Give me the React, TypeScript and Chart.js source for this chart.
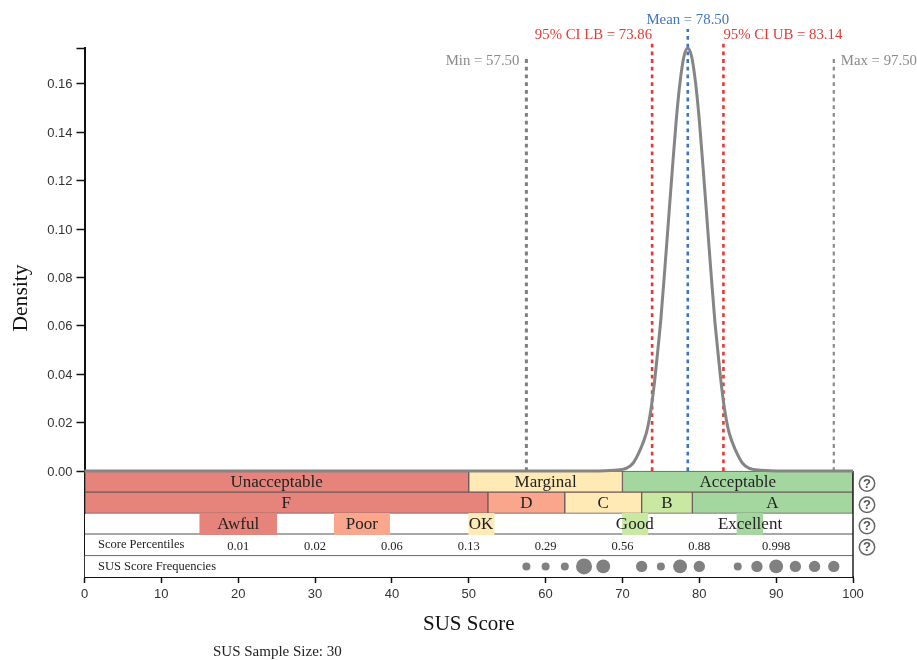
import React, { useEffect, useRef } from "react";
import { Chart, registerables } from "chart.js";

Chart.register(...registerables);

const SERIF = '"Liberation Serif", serif';
const SANS = '"Liberation Sans", sans-serif';

const curveX = [0, 50, 66, 69, 70.55, 71.4, 72.3, 73.1, 73.5, 73.85, 74.25, 74.7, 75, 75.5, 76, 76.5, 77, 77.5, 78, 78.5, 79, 79.5, 80, 80.5, 81, 81.5, 82, 82.3, 82.75, 83.15, 83.5, 83.9, 84.7, 85.6, 86.45, 88, 91, 100];
const curveY = [0, 0, 0, 0.0003, 0.0012, 0.0033, 0.0087, 0.0156, 0.0215, 0.0285, 0.039, 0.053, 0.0629, 0.0829, 0.104, 0.125, 0.145, 0.1608, 0.1713, 0.1747, 0.1713, 0.1608, 0.145, 0.125, 0.104, 0.0829, 0.0629, 0.053, 0.039, 0.0285, 0.0215, 0.0156, 0.0087, 0.0033, 0.0012, 0.0003, 0, 0];

const yTickValues = [0, 0.02, 0.04, 0.06, 0.08, 0.1, 0.12, 0.14, 0.16, 0.1748];

const refNames = ["Min", "95% CI LB", "Mean", "95% CI UB", "Max"];
const refValues = [57.5, 73.86, 78.5, 83.14, 97.5];
const refTops = [0.1715, 0.1769, 0.1826, 0.1769, 0.1715];
const refColors = ["#7f7f7f", "#e53935", "#3f74c4", "#e53935", "#8a8a8a"];
const refWidths = [3, 2.6, 2.6, 2.6, 2.2];

const row1Labels = ["Unacceptable", "Marginal", "Acceptable"];
const row1Ranges = [[0, 50], [50, 70], [70, 100]];
const row1Colors = ["#e6837b", "#ffeab5", "#a3d79f"];
const row1TextX = [25, 60, 85];

const row2Labels = ["F", "D", "C", "B", "A"];
const row2Ranges = [[0, 52.5], [52.5, 62.5], [62.5, 72.5], [72.5, 79.1], [79.1, 100]];
const row2Colors = ["#e6837b", "#faa68c", "#ffeab5", "#c9e9a3", "#a3d79f"];
const row2TextX = [26.25, 57.5, 67.5, 75.8, 89.5];

const row3Labels = ["Awful", "Poor", "OK", "Good", "Excellent"];
const row3Ranges = [[15, 25], [32.5, 39.7], [50, 53.3], [70, 73.3], [84.9, 88.25]];
const row3Colors = ["#e6837b", "#faa68c", "#ffeab5", "#c9e9a3", "#a3d79f"];
const row3TextX = [20, 36.1, 51.6, 71.6, 86.6];

const percentileLabels = ["0.01", "0.02", "0.06", "0.13", "0.29", "0.56", "0.88", "0.998"];
const percentileX = [20, 30, 40, 50, 60, 70, 80, 90];

const freqScores = [57.5, 60, 62.5, 65, 67.5, 72.5, 75, 77.5, 80, 85, 87.5, 90, 92.5, 95, 97.5];
const freqCounts = [1, 1, 1, 4, 3, 2, 1, 3, 2, 1, 2, 3, 2, 2, 2];

const rowHeight = 21.2;
const bandMax = 529 / rowHeight;

function bars(ranges: number[][], row: number, colors: string[], border: string, width: any, order: number) {
  return {
    type: "bar",
    indexAxis: "y",
    grouped: false,
    barThickness: rowHeight,
    xAxisID: "x",
    yAxisID: "band",
    order,
    data: ranges.map((r) => ({ x: r, y: row })),
    backgroundColor: colors,
    borderColor: border,
    borderWidth: width,
    borderSkipped: false,
  };
}

const textPlugin = {
  id: "texts",
  afterDatasetsDraw(chart: any) {
    const { ctx, scales } = chart;
    const x = scales.x;
    const band = scales.band;
    const draw = (t: string, px: number, py: number, font: string, color: string, align: CanvasTextAlign = "center") => {
      ctx.font = font;
      ctx.fillStyle = color;
      ctx.textAlign = align;
      ctx.textBaseline = "middle";
      ctx.fillText(t, px, py);
    };
    ctx.save();
    const bandFont = `17px ${SERIF}`;
    row1Labels.forEach((l, i) => draw(l, x.getPixelForValue(row1TextX[i]), band.getPixelForValue(4.5) + 1, bandFont, "#222"));
    row2Labels.forEach((l, i) => draw(l, x.getPixelForValue(row2TextX[i]), band.getPixelForValue(3.5) + 1, bandFont, "#222"));
    row3Labels.forEach((l, i) => draw(l, x.getPixelForValue(row3TextX[i]), band.getPixelForValue(2.5) + 1, bandFont, "#222"));
    const smallFont = `12.5px ${SERIF}`;
    percentileLabels.forEach((l, i) => draw(l, x.getPixelForValue(percentileX[i]), band.getPixelForValue(1.5) + 1.5, smallFont, "#222"));
    draw("Score Percentiles", 98, band.getPixelForValue(1.5), smallFont, "#222", "left");
    draw("SUS Score Frequencies", 98, band.getPixelForValue(0.5), smallFont, "#222", "left");

    const refFont = `14.8px ${SERIF}`;
    draw(`${refNames[0]} = ${refValues[0].toFixed(2)}`, x.getPixelForValue(refValues[0]) - 7, 61, refFont, "#8a8a8a", "right");
    draw(`${refNames[1]} = ${refValues[1].toFixed(2)}`, x.getPixelForValue(refValues[1]), 35, refFont, "#e53935", "right");
    draw(`${refNames[2]} = ${refValues[2].toFixed(2)}`, x.getPixelForValue(refValues[2]), 20, refFont, "#3f74c4", "center");
    draw(`${refNames[3]} = ${refValues[3].toFixed(2)}`, x.getPixelForValue(refValues[3]), 35, refFont, "#e53935", "left");
    draw(`${refNames[4]} = ${refValues[4].toFixed(2)}`, x.getPixelForValue(refValues[4]) + 7, 61, refFont, "#8a8a8a", "left");

    draw("SUS Sample Size: 30", 213, 652, `15px ${SERIF}`, "#222", "left");

    ctx.save();
    ctx.translate(21.5, 298);
    ctx.rotate(-Math.PI / 2);
    draw("Density", 0, 0, `21.6px ${SERIF}`, "#111");
    ctx.restore();

    [4.5, 3.5, 2.5, 1.5].forEach((r) => {
      const py = band.getPixelForValue(r) + 2;
      ctx.beginPath();
      ctx.arc(867, py, 7.7, 0, Math.PI * 2);
      ctx.strokeStyle = "#666";
      ctx.lineWidth = 1.5;
      ctx.stroke();
      draw("?", 867, py + 0.5, `bold 13px ${SANS}`, "#555");
    });
    ctx.restore();
  },
};

export default function App() {
  const ref = useRef<HTMLCanvasElement>(null);
  useEffect(() => {
    const datasets: any[] = [
      bars([[0, 100]], 2.5, ["#ffffff"], "#a8a8a8", { top: 0, right: 0, left: 0, bottom: 2 }, 30),
      bars([[0, 100]], 1.5, ["#ffffff"], "#444444", { top: 0, right: 0, left: 0, bottom: 1 }, 31),
      bars([[0, 100]], 0.5, ["#ffffff"], "#444444", 0, 32),
      bars(row3Ranges, 2.5, row3Colors, "rgba(0,0,0,0)", 0, 20),
      bars(row2Ranges, 3.5, row2Colors, "#6a5a5a", 1, 21),
      bars(row1Ranges, 4.5, row1Colors, "#6a5a5a", 1, 22),
      {
        type: "line",
        xAxisID: "x",
        yAxisID: "band",
        order: 5,
        data: [{ x: 100, y: 0 }, { x: 100, y: 5 }],
        borderColor: "#222",
        borderWidth: 1.5,
        pointRadius: 0,
        clip: false,
      },
      {
        type: "scatter",
        xAxisID: "x",
        yAxisID: "band",
        order: 4,
        data: freqScores.map((s) => ({ x: s, y: 0.5 })),
        pointRadius: freqCounts.map((c) => 4 * Math.sqrt(c)),
        pointBackgroundColor: "#808080",
        pointBorderWidth: 0,
      },
      ...refValues.map((v, i) => ({
        type: "line",
        xAxisID: "x",
        yAxisID: "y",
        order: 3,
        data: [{ x: v, y: 0 }, { x: v, y: refTops[i] }],
        borderColor: refColors[i],
        borderWidth: refWidths[i],
        borderDash: [3.8, 3.9],
        pointRadius: 0,
        clip: false,
      })),
      {
        type: "line",
        xAxisID: "x",
        yAxisID: "y",
        order: 1,
        data: curveX.map((x, i) => ({ x, y: curveY[i] })),
        borderColor: "#858585",
        borderWidth: 3,
        cubicInterpolationMode: "monotone",
        pointRadius: 0,
        clip: false,
      },
    ];
    const chart = new Chart(ref.current as HTMLCanvasElement, {
      type: "line",
      data: { datasets },
      plugins: [textPlugin],
      options: {
        animation: false,
        responsive: false,
        layout: { padding: { left: 0, right: 64, top: 48, bottom: 0 } },
        plugins: { legend: { display: false }, tooltip: { enabled: false } },
        scales: {
          x: {
            type: "linear",
            position: "bottom",
            min: 0,
            max: 100,
            offset: false,
            grid: { drawOnChartArea: false, drawTicks: true, tickLength: 6, tickColor: "#111", tickWidth: 1.5 },
            border: { display: true, color: "#111", width: 2 },
            ticks: { stepSize: 10, color: "#333", font: { family: SANS, size: 13 }, maxRotation: 0, padding: 4 },
            title: { display: true, text: "SUS Score", color: "#111", font: { family: SERIF, size: 21 }, padding: { top: 7, bottom: 23 } },
            afterFit: (s: any) => { s.height = 83; },
          },
          y: {
            type: "linear",
            position: "left",
            min: -0.0438,
            max: 0.1748,
            grid: { drawOnChartArea: false, drawTicks: true, tickLength: 8, tickColor: "#111", tickWidth: 1.5 },
            border: { display: true, color: "#111", width: 2 },
            afterBuildTicks: (s: any) => { s.ticks = yTickValues.map((value) => ({ value })); },
            ticks: {
              autoSkip: false,
              color: "#333",
              font: { family: SANS, size: 13 },
              padding: 4,
              labelOffset: 1,
              callback: (v: any) => (v > 0.17 ? "" : Number(v).toFixed(2)),
            },
            afterFit: (s: any) => { s.width = 84.5; },
          },
          band: { type: "linear", display: false, min: 0, max: bandMax, offset: false },
        },
      } as any,
    } as any);
    return () => chart.destroy();
  }, []);
  return <canvas ref={ref} width={917} height={660} style={{ position: "absolute", left: 0, top: 0, display: "block" }} />;
}
